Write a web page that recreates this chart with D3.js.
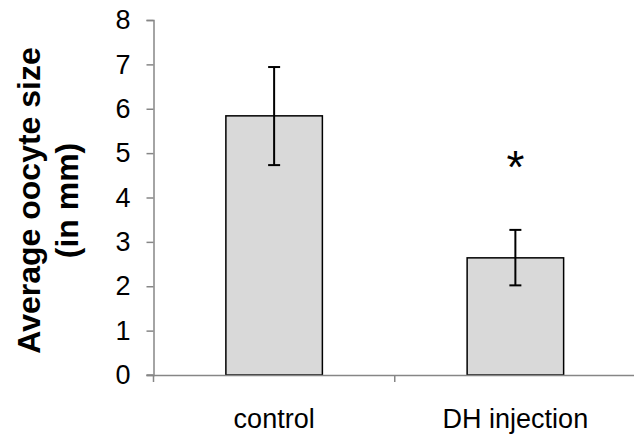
<!DOCTYPE html>
<html>
<head>
<meta charset="utf-8">
<script src="https://cdn.jsdelivr.net/npm/d3@7"></script>
<style>
  body { margin: 0; background: #fff; }
  svg { display: block; font-family: Arial, "Liberation Sans", sans-serif; }
</style>
</head>
<body>
<div id="chart"></div>
<script>
// data
var categories = ["control", "DH injection"];
var means = [5.84, 2.64];
var errLow = [4.73, 2.02];
var errHigh = [6.94, 3.27];
var stars = ["", "*"];
var starValue = [0, 4.33];
var yTicks = [0, 1, 2, 3, 4, 5, 6, 7, 8];

var W = 634, H = 434;
var margin = {top: 20, right: -2, bottom: 59, left: 153.5};
var width = W - margin.left - margin.right;
var height = H - margin.top - margin.bottom;

var svg = d3.select("#chart").append("svg")
    .attr("width", W)
    .attr("height", H);

var g = svg.append("g")
    .attr("transform", "translate(" + margin.left + "," + margin.top + ")");

var x = d3.scaleBand().domain(categories).range([0, width]).padding(0);
var y = d3.scaleLinear().domain([0, 8]).range([height, 0]);

var barW = x.bandwidth() * 0.4;
var axisColor = "#868686";

// y axis
var yAxis = g.append("g")
    .call(d3.axisLeft(y).tickValues(yTicks).tickSizeInner(7).tickSizeOuter(7).tickPadding(16));
yAxis.select(".domain").attr("stroke", axisColor).attr("stroke-width", 1.5);
yAxis.selectAll(".tick line").attr("stroke", axisColor).attr("stroke-width", 1.5);
yAxis.selectAll(".tick text").attr("font-size", 27).attr("fill", "#000");

// bars
g.selectAll(".bar").data(categories).enter().append("rect")
    .attr("class", "bar")
    .attr("x", function(d) { return x(d) + (x.bandwidth() - barW) / 2; })
    .attr("y", function(d, i) { return y(means[i]); })
    .attr("width", barW)
    .attr("height", function(d, i) { return y(0) - y(means[i]); })
    .attr("fill", "#d9d9d9")
    .attr("stroke", "#000")
    .attr("stroke-width", 1.5);

// x axis (drawn after bars so it sits on top)
var xAxis = g.append("g")
    .attr("transform", "translate(0," + height + ")")
    .call(d3.axisBottom(x).tickSize(0).tickPadding(34));
xAxis.select(".domain").attr("stroke", axisColor).attr("stroke-width", 1.5);
xAxis.selectAll(".tick text").attr("font-size", 27).attr("fill", "#000");
// ticks sit on the band boundaries
var bounds = categories.map(function(d) { return x(d); }).concat([width]);
xAxis.selectAll(".bound").data(bounds).enter().append("line")
    .attr("class", "bound")
    .attr("x1", function(d) { return d; })
    .attr("x2", function(d) { return d; })
    .attr("y1", 0)
    .attr("y2", 7)
    .attr("stroke", axisColor)
    .attr("stroke-width", 1.5);
xAxis.append("line")
    .attr("x1", -7).attr("x2", 0).attr("y1", 0).attr("y2", 0)
    .attr("stroke", axisColor).attr("stroke-width", 1.5);

// error bars
var cap = 6;
var eb = g.selectAll(".err").data(categories).enter().append("g").attr("class", "err")
    .attr("stroke", "#000").attr("stroke-width", 2);
eb.append("line")
    .attr("x1", function(d) { return x(d) + x.bandwidth() / 2; })
    .attr("x2", function(d) { return x(d) + x.bandwidth() / 2; })
    .attr("y1", function(d, i) { return y(errHigh[i]); })
    .attr("y2", function(d, i) { return y(errLow[i]); });
eb.append("line")
    .attr("x1", function(d) { return x(d) + x.bandwidth() / 2 - cap; })
    .attr("x2", function(d) { return x(d) + x.bandwidth() / 2 + cap; })
    .attr("y1", function(d, i) { return y(errHigh[i]); })
    .attr("y2", function(d, i) { return y(errHigh[i]); });
eb.append("line")
    .attr("x1", function(d) { return x(d) + x.bandwidth() / 2 - cap; })
    .attr("x2", function(d) { return x(d) + x.bandwidth() / 2 + cap; })
    .attr("y1", function(d, i) { return y(errLow[i]); })
    .attr("y2", function(d, i) { return y(errLow[i]); });

// significance star
g.selectAll(".star").data(categories).enter().append("text")
    .attr("class", "star")
    .attr("x", function(d) { return x(d) + x.bandwidth() / 2; })
    .attr("y", function(d, i) { return y(starValue[i]); })
    .attr("text-anchor", "middle")
    .attr("font-size", 46)
    .text(function(d, i) { return stars[i]; });

// y label
var ylab = svg.append("text")
    .attr("transform", "translate(40,200.5) rotate(-90)")
    .attr("text-anchor", "middle")
    .attr("font-size", 32)
    .attr("font-weight", "bold");
ylab.append("tspan").attr("x", 0).attr("dy", 0).text("Average oocyte size");
ylab.append("tspan").attr("x", 0).attr("dy", 38).text("(in mm)");
</script>
</body>
</html>
